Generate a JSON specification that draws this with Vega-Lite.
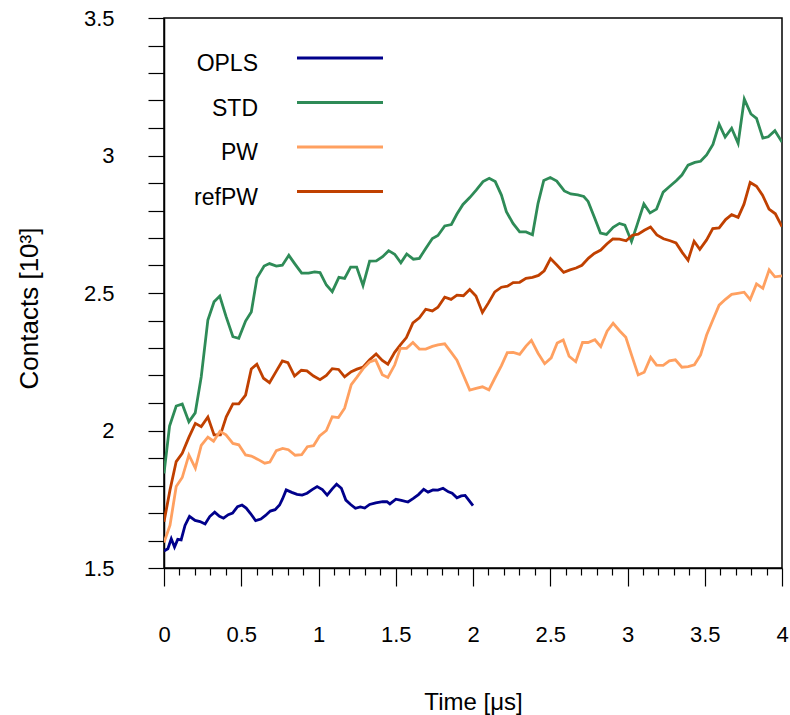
{
"$schema": "https://vega.github.io/schema/vega-lite/v6.json",
"width": 618, "height": 550,
"autosize": {"type": "none"},
"padding": {"left": 164, "top": 18, "right": 8, "bottom": 147},
"background": "white",
"config": {
  "font": "Liberation Sans",
  "view": {"stroke": "black", "strokeWidth": 1.5},
  "style": {"guide-label": {"lineHeight": 12}},
  "axis": {"domainColor": "black", "domainWidth": 1.5, "tickColor": "black", "tickWidth": 1.2, "labelColor": "black", "titleColor": "black", "labelFontSize": 22, "titleFontSize": 24, "titleFontWeight": "normal", "grid": false, "labelOverlap": false, "labelFlush": false}
},
"data": {"values": [
{"t":0,"c":1.844,"m":"STD"},{"t":0.036,"c":2.016,"m":"STD"},{"t":0.079,"c":2.089,"m":"STD"},{"t":0.118,"c":2.096,"m":"STD"},{"t":0.161,"c":2.032,"m":"STD"},{"t":0.202,"c":2.064,"m":"STD"},{"t":0.241,"c":2.195,"m":"STD"},{"t":0.284,"c":2.402,"m":"STD"},{"t":0.324,"c":2.468,"m":"STD"},{"t":0.361,"c":2.489,"m":"STD"},{"t":0.402,"c":2.414,"m":"STD"},{"t":0.446,"c":2.341,"m":"STD"},{"t":0.484,"c":2.335,"m":"STD"},{"t":0.528,"c":2.398,"m":"STD"},{"t":0.565,"c":2.431,"m":"STD"},{"t":0.602,"c":2.555,"m":"STD"},{"t":0.648,"c":2.598,"m":"STD"},{"t":0.683,"c":2.607,"m":"STD"},{"t":0.727,"c":2.598,"m":"STD"},{"t":0.766,"c":2.601,"m":"STD"},{"t":0.808,"c":2.637,"m":"STD"},{"t":0.848,"c":2.605,"m":"STD"},{"t":0.891,"c":2.572,"m":"STD"},{"t":0.936,"c":2.572,"m":"STD"},{"t":0.975,"c":2.577,"m":"STD"},{"t":1.010,"c":2.574,"m":"STD"},{"t":1.051,"c":2.529,"m":"STD"},{"t":1.089,"c":2.505,"m":"STD"},{"t":1.132,"c":2.557,"m":"STD"},{"t":1.169,"c":2.553,"m":"STD"},{"t":1.208,"c":2.594,"m":"STD"},{"t":1.247,"c":2.594,"m":"STD"},{"t":1.288,"c":2.527,"m":"STD"},{"t":1.331,"c":2.616,"m":"STD"},{"t":1.374,"c":2.617,"m":"STD"},{"t":1.415,"c":2.632,"m":"STD"},{"t":1.454,"c":2.654,"m":"STD"},{"t":1.493,"c":2.641,"m":"STD"},{"t":1.533,"c":2.610,"m":"STD"},{"t":1.571,"c":2.642,"m":"STD"},{"t":1.614,"c":2.623,"m":"STD"},{"t":1.653,"c":2.626,"m":"STD"},{"t":1.694,"c":2.662,"m":"STD"},{"t":1.737,"c":2.698,"m":"STD"},{"t":1.773,"c":2.709,"m":"STD"},{"t":1.817,"c":2.744,"m":"STD"},{"t":1.860,"c":2.749,"m":"STD"},{"t":1.896,"c":2.787,"m":"STD"},{"t":1.935,"c":2.822,"m":"STD"},{"t":1.979,"c":2.847,"m":"STD"},{"t":2.022,"c":2.875,"m":"STD"},{"t":2.065,"c":2.905,"m":"STD"},{"t":2.105,"c":2.917,"m":"STD"},{"t":2.144,"c":2.905,"m":"STD"},{"t":2.184,"c":2.856,"m":"STD"},{"t":2.216,"c":2.796,"m":"STD"},{"t":2.259,"c":2.753,"m":"STD"},{"t":2.302,"c":2.722,"m":"STD"},{"t":2.343,"c":2.722,"m":"STD"},{"t":2.385,"c":2.712,"m":"STD"},{"t":2.421,"c":2.826,"m":"STD"},{"t":2.458,"c":2.909,"m":"STD"},{"t":2.500,"c":2.920,"m":"STD"},{"t":2.542,"c":2.907,"m":"STD"},{"t":2.591,"c":2.871,"m":"STD"},{"t":2.633,"c":2.860,"m":"STD"},{"t":2.678,"c":2.857,"m":"STD"},{"t":2.717,"c":2.851,"m":"STD"},{"t":2.745,"c":2.833,"m":"STD"},{"t":2.788,"c":2.772,"m":"STD"},{"t":2.825,"c":2.718,"m":"STD"},{"t":2.864,"c":2.713,"m":"STD"},{"t":2.907,"c":2.739,"m":"STD"},{"t":2.948,"c":2.753,"m":"STD"},{"t":2.983,"c":2.747,"m":"STD"},{"t":3.026,"c":2.687,"m":"STD"},{"t":3.060,"c":2.744,"m":"STD"},{"t":3.106,"c":2.824,"m":"STD"},{"t":3.146,"c":2.791,"m":"STD"},{"t":3.188,"c":2.805,"m":"STD"},{"t":3.231,"c":2.867,"m":"STD"},{"t":3.274,"c":2.888,"m":"STD"},{"t":3.317,"c":2.909,"m":"STD"},{"t":3.352,"c":2.929,"m":"STD"},{"t":3.392,"c":2.965,"m":"STD"},{"t":3.436,"c":2.975,"m":"STD"},{"t":3.473,"c":2.979,"m":"STD"},{"t":3.512,"c":3.002,"m":"STD"},{"t":3.553,"c":3.040,"m":"STD"},{"t":3.593,"c":3.114,"m":"STD"},{"t":3.632,"c":3.067,"m":"STD"},{"t":3.674,"c":3.099,"m":"STD"},{"t":3.716,"c":3.044,"m":"STD"},{"t":3.756,"c":3.205,"m":"STD"},{"t":3.799,"c":3.151,"m":"STD"},{"t":3.835,"c":3.135,"m":"STD"},{"t":3.876,"c":3.063,"m":"STD"},{"t":3.911,"c":3.068,"m":"STD"},{"t":3.954,"c":3.090,"m":"STD"},{"t":4.0,"c":3.049,"m":"STD"},
{"t":0,"c":1.668,"m":"refPW"},{"t":0.039,"c":1.784,"m":"refPW"},{"t":0.079,"c":1.887,"m":"refPW"},{"t":0.118,"c":1.917,"m":"refPW"},{"t":0.161,"c":1.975,"m":"refPW"},{"t":0.203,"c":2.026,"m":"refPW"},{"t":0.241,"c":2.014,"m":"refPW"},{"t":0.284,"c":2.049,"m":"refPW"},{"t":0.324,"c":1.984,"m":"refPW"},{"t":0.365,"c":1.984,"m":"refPW"},{"t":0.403,"c":2.050,"m":"refPW"},{"t":0.446,"c":2.097,"m":"refPW"},{"t":0.484,"c":2.097,"m":"refPW"},{"t":0.528,"c":2.129,"m":"refPW"},{"t":0.565,"c":2.224,"m":"refPW"},{"t":0.601,"c":2.241,"m":"refPW"},{"t":0.644,"c":2.190,"m":"refPW"},{"t":0.683,"c":2.174,"m":"refPW"},{"t":0.727,"c":2.216,"m":"refPW"},{"t":0.766,"c":2.253,"m":"refPW"},{"t":0.802,"c":2.247,"m":"refPW"},{"t":0.845,"c":2.198,"m":"refPW"},{"t":0.889,"c":2.219,"m":"refPW"},{"t":0.925,"c":2.217,"m":"refPW"},{"t":0.968,"c":2.198,"m":"refPW"},{"t":1.010,"c":2.185,"m":"refPW"},{"t":1.051,"c":2.200,"m":"refPW"},{"t":1.089,"c":2.225,"m":"refPW"},{"t":1.130,"c":2.222,"m":"refPW"},{"t":1.169,"c":2.195,"m":"refPW"},{"t":1.212,"c":2.214,"m":"refPW"},{"t":1.249,"c":2.223,"m":"refPW"},{"t":1.289,"c":2.231,"m":"refPW"},{"t":1.331,"c":2.257,"m":"refPW"},{"t":1.373,"c":2.278,"m":"refPW"},{"t":1.413,"c":2.255,"m":"refPW"},{"t":1.449,"c":2.241,"m":"refPW"},{"t":1.493,"c":2.284,"m":"refPW"},{"t":1.530,"c":2.311,"m":"refPW"},{"t":1.569,"c":2.338,"m":"refPW"},{"t":1.611,"c":2.391,"m":"refPW"},{"t":1.653,"c":2.410,"m":"refPW"},{"t":1.694,"c":2.441,"m":"refPW"},{"t":1.737,"c":2.435,"m":"refPW"},{"t":1.773,"c":2.448,"m":"refPW"},{"t":1.817,"c":2.485,"m":"refPW"},{"t":1.858,"c":2.477,"m":"refPW"},{"t":1.896,"c":2.492,"m":"refPW"},{"t":1.938,"c":2.490,"m":"refPW"},{"t":1.979,"c":2.513,"m":"refPW"},{"t":2.019,"c":2.489,"m":"refPW"},{"t":2.061,"c":2.429,"m":"refPW"},{"t":2.100,"c":2.464,"m":"refPW"},{"t":2.141,"c":2.504,"m":"refPW"},{"t":2.184,"c":2.521,"m":"refPW"},{"t":2.223,"c":2.525,"m":"refPW"},{"t":2.260,"c":2.538,"m":"refPW"},{"t":2.302,"c":2.539,"m":"refPW"},{"t":2.343,"c":2.553,"m":"refPW"},{"t":2.385,"c":2.557,"m":"refPW"},{"t":2.424,"c":2.564,"m":"refPW"},{"t":2.461,"c":2.581,"m":"refPW"},{"t":2.502,"c":2.625,"m":"refPW"},{"t":2.544,"c":2.601,"m":"refPW"},{"t":2.587,"c":2.575,"m":"refPW"},{"t":2.628,"c":2.584,"m":"refPW"},{"t":2.667,"c":2.591,"m":"refPW"},{"t":2.705,"c":2.601,"m":"refPW"},{"t":2.748,"c":2.627,"m":"refPW"},{"t":2.785,"c":2.644,"m":"refPW"},{"t":2.827,"c":2.656,"m":"refPW"},{"t":2.866,"c":2.678,"m":"refPW"},{"t":2.905,"c":2.697,"m":"refPW"},{"t":2.948,"c":2.696,"m":"refPW"},{"t":2.991,"c":2.690,"m":"refPW"},{"t":3.032,"c":2.710,"m":"refPW"},{"t":3.069,"c":2.714,"m":"refPW"},{"t":3.109,"c":2.728,"m":"refPW"},{"t":3.149,"c":2.740,"m":"refPW"},{"t":3.190,"c":2.711,"m":"refPW"},{"t":3.233,"c":2.697,"m":"refPW"},{"t":3.276,"c":2.690,"m":"refPW"},{"t":3.314,"c":2.682,"m":"refPW"},{"t":3.355,"c":2.647,"m":"refPW"},{"t":3.392,"c":2.619,"m":"refPW"},{"t":3.431,"c":2.688,"m":"refPW"},{"t":3.468,"c":2.659,"m":"refPW"},{"t":3.512,"c":2.693,"m":"refPW"},{"t":3.552,"c":2.734,"m":"refPW"},{"t":3.593,"c":2.737,"m":"refPW"},{"t":3.635,"c":2.767,"m":"refPW"},{"t":3.674,"c":2.785,"m":"refPW"},{"t":3.716,"c":2.775,"m":"refPW"},{"t":3.754,"c":2.823,"m":"refPW"},{"t":3.794,"c":2.902,"m":"refPW"},{"t":3.835,"c":2.888,"m":"refPW"},{"t":3.874,"c":2.856,"m":"refPW"},{"t":3.916,"c":2.805,"m":"refPW"},{"t":3.957,"c":2.788,"m":"refPW"},{"t":4.0,"c":2.741,"m":"refPW"},
{"t":0,"c":1.593,"m":"PW"},{"t":0.039,"c":1.656,"m":"PW"},{"t":0.079,"c":1.796,"m":"PW"},{"t":0.118,"c":1.829,"m":"PW"},{"t":0.161,"c":1.911,"m":"PW"},{"t":0.203,"c":1.863,"m":"PW"},{"t":0.241,"c":1.946,"m":"PW"},{"t":0.284,"c":1.976,"m":"PW"},{"t":0.321,"c":1.961,"m":"PW"},{"t":0.362,"c":1.997,"m":"PW"},{"t":0.401,"c":1.984,"m":"PW"},{"t":0.446,"c":1.953,"m":"PW"},{"t":0.484,"c":1.948,"m":"PW"},{"t":0.528,"c":1.911,"m":"PW"},{"t":0.565,"c":1.907,"m":"PW"},{"t":0.608,"c":1.895,"m":"PW"},{"t":0.652,"c":1.881,"m":"PW"},{"t":0.685,"c":1.885,"m":"PW"},{"t":0.727,"c":1.927,"m":"PW"},{"t":0.768,"c":1.935,"m":"PW"},{"t":0.805,"c":1.930,"m":"PW"},{"t":0.849,"c":1.910,"m":"PW"},{"t":0.891,"c":1.912,"m":"PW"},{"t":0.928,"c":1.941,"m":"PW"},{"t":0.968,"c":1.945,"m":"PW"},{"t":1.007,"c":1.980,"m":"PW"},{"t":1.051,"c":2.000,"m":"PW"},{"t":1.089,"c":2.050,"m":"PW"},{"t":1.129,"c":2.047,"m":"PW"},{"t":1.169,"c":2.081,"m":"PW"},{"t":1.212,"c":2.167,"m":"PW"},{"t":1.249,"c":2.194,"m":"PW"},{"t":1.289,"c":2.225,"m":"PW"},{"t":1.331,"c":2.249,"m":"PW"},{"t":1.370,"c":2.257,"m":"PW"},{"t":1.413,"c":2.203,"m":"PW"},{"t":1.449,"c":2.193,"m":"PW"},{"t":1.493,"c":2.238,"m":"PW"},{"t":1.530,"c":2.299,"m":"PW"},{"t":1.570,"c":2.299,"m":"PW"},{"t":1.611,"c":2.320,"m":"PW"},{"t":1.653,"c":2.296,"m":"PW"},{"t":1.694,"c":2.296,"m":"PW"},{"t":1.737,"c":2.306,"m":"PW"},{"t":1.773,"c":2.311,"m":"PW"},{"t":1.817,"c":2.315,"m":"PW"},{"t":1.859,"c":2.284,"m":"PW"},{"t":1.896,"c":2.256,"m":"PW"},{"t":1.938,"c":2.201,"m":"PW"},{"t":1.979,"c":2.147,"m":"PW"},{"t":2.020,"c":2.153,"m":"PW"},{"t":2.061,"c":2.159,"m":"PW"},{"t":2.103,"c":2.148,"m":"PW"},{"t":2.141,"c":2.190,"m":"PW"},{"t":2.184,"c":2.236,"m":"PW"},{"t":2.222,"c":2.283,"m":"PW"},{"t":2.260,"c":2.284,"m":"PW"},{"t":2.302,"c":2.277,"m":"PW"},{"t":2.343,"c":2.307,"m":"PW"},{"t":2.378,"c":2.328,"m":"PW"},{"t":2.421,"c":2.281,"m":"PW"},{"t":2.464,"c":2.243,"m":"PW"},{"t":2.506,"c":2.264,"m":"PW"},{"t":2.545,"c":2.318,"m":"PW"},{"t":2.584,"c":2.329,"m":"PW"},{"t":2.622,"c":2.270,"m":"PW"},{"t":2.665,"c":2.250,"m":"PW"},{"t":2.709,"c":2.320,"m":"PW"},{"t":2.745,"c":2.320,"m":"PW"},{"t":2.789,"c":2.330,"m":"PW"},{"t":2.827,"c":2.305,"m":"PW"},{"t":2.868,"c":2.361,"m":"PW"},{"t":2.907,"c":2.390,"m":"PW"},{"t":2.950,"c":2.362,"m":"PW"},{"t":2.989,"c":2.339,"m":"PW"},{"t":3.026,"c":2.275,"m":"PW"},{"t":3.069,"c":2.202,"m":"PW"},{"t":3.108,"c":2.212,"m":"PW"},{"t":3.150,"c":2.266,"m":"PW"},{"t":3.188,"c":2.238,"m":"PW"},{"t":3.231,"c":2.237,"m":"PW"},{"t":3.271,"c":2.253,"m":"PW"},{"t":3.310,"c":2.257,"m":"PW"},{"t":3.352,"c":2.230,"m":"PW"},{"t":3.393,"c":2.232,"m":"PW"},{"t":3.433,"c":2.239,"m":"PW"},{"t":3.473,"c":2.275,"m":"PW"},{"t":3.512,"c":2.347,"m":"PW"},{"t":3.553,"c":2.403,"m":"PW"},{"t":3.593,"c":2.456,"m":"PW"},{"t":3.634,"c":2.477,"m":"PW"},{"t":3.674,"c":2.495,"m":"PW"},{"t":3.713,"c":2.499,"m":"PW"},{"t":3.755,"c":2.503,"m":"PW"},{"t":3.794,"c":2.476,"m":"PW"},{"t":3.835,"c":2.533,"m":"PW"},{"t":3.876,"c":2.517,"m":"PW"},{"t":3.917,"c":2.584,"m":"PW"},{"t":3.954,"c":2.559,"m":"PW"},{"t":4.0,"c":2.562,"m":"PW"},
{"t":0,"c":1.562,"m":"OPLS"},{"t":0.025,"c":1.570,"m":"OPLS"},{"t":0.047,"c":1.606,"m":"OPLS"},{"t":0.068,"c":1.576,"m":"OPLS"},{"t":0.089,"c":1.604,"m":"OPLS"},{"t":0.111,"c":1.602,"m":"OPLS"},{"t":0.136,"c":1.655,"m":"OPLS"},{"t":0.165,"c":1.688,"m":"OPLS"},{"t":0.201,"c":1.673,"m":"OPLS"},{"t":0.233,"c":1.669,"m":"OPLS"},{"t":0.266,"c":1.660,"m":"OPLS"},{"t":0.296,"c":1.687,"m":"OPLS"},{"t":0.328,"c":1.703,"m":"OPLS"},{"t":0.359,"c":1.688,"m":"OPLS"},{"t":0.385,"c":1.681,"m":"OPLS"},{"t":0.416,"c":1.694,"m":"OPLS"},{"t":0.444,"c":1.700,"m":"OPLS"},{"t":0.476,"c":1.723,"m":"OPLS"},{"t":0.505,"c":1.729,"m":"OPLS"},{"t":0.532,"c":1.718,"m":"OPLS"},{"t":0.560,"c":1.698,"m":"OPLS"},{"t":0.593,"c":1.672,"m":"OPLS"},{"t":0.627,"c":1.678,"m":"OPLS"},{"t":0.657,"c":1.691,"m":"OPLS"},{"t":0.688,"c":1.707,"m":"OPLS"},{"t":0.719,"c":1.712,"m":"OPLS"},{"t":0.748,"c":1.729,"m":"OPLS"},{"t":0.767,"c":1.751,"m":"OPLS"},{"t":0.791,"c":1.784,"m":"OPLS"},{"t":0.827,"c":1.775,"m":"OPLS"},{"t":0.861,"c":1.768,"m":"OPLS"},{"t":0.894,"c":1.765,"m":"OPLS"},{"t":0.926,"c":1.772,"m":"OPLS"},{"t":0.959,"c":1.785,"m":"OPLS"},{"t":0.991,"c":1.796,"m":"OPLS"},{"t":1.025,"c":1.785,"m":"OPLS"},{"t":1.056,"c":1.765,"m":"OPLS"},{"t":1.089,"c":1.788,"m":"OPLS"},{"t":1.117,"c":1.805,"m":"OPLS"},{"t":1.148,"c":1.790,"m":"OPLS"},{"t":1.177,"c":1.747,"m":"OPLS"},{"t":1.208,"c":1.731,"m":"OPLS"},{"t":1.239,"c":1.717,"m":"OPLS"},{"t":1.271,"c":1.722,"m":"OPLS"},{"t":1.299,"c":1.718,"m":"OPLS"},{"t":1.331,"c":1.731,"m":"OPLS"},{"t":1.370,"c":1.737,"m":"OPLS"},{"t":1.415,"c":1.741,"m":"OPLS"},{"t":1.443,"c":1.741,"m":"OPLS"},{"t":1.462,"c":1.733,"m":"OPLS"},{"t":1.501,"c":1.750,"m":"OPLS"},{"t":1.536,"c":1.746,"m":"OPLS"},{"t":1.579,"c":1.740,"m":"OPLS"},{"t":1.614,"c":1.753,"m":"OPLS"},{"t":1.647,"c":1.767,"m":"OPLS"},{"t":1.681,"c":1.786,"m":"OPLS"},{"t":1.709,"c":1.776,"m":"OPLS"},{"t":1.741,"c":1.784,"m":"OPLS"},{"t":1.773,"c":1.783,"m":"OPLS"},{"t":1.806,"c":1.790,"m":"OPLS"},{"t":1.841,"c":1.777,"m":"OPLS"},{"t":1.865,"c":1.772,"m":"OPLS"},{"t":1.896,"c":1.755,"m":"OPLS"},{"t":1.924,"c":1.762,"m":"OPLS"},{"t":1.949,"c":1.764,"m":"OPLS"},{"t":1.975,"c":1.745,"m":"OPLS"},{"t":2.000,"c":1.727,"m":"OPLS"}
]},
"mark": {"type": "line", "strokeWidth": 2.8, "clip": true},
"encoding": {
  "x": {"field": "t", "type": "quantitative", "scale": {"domain": [0, 4], "nice": false},
    "axis": {"title": "Time [μs]", "values": [0,0.1,0.2,0.3,0.4,0.5,0.6,0.7,0.8,0.9,1,1.1,1.2,1.3,1.4,1.5,1.6,1.7,1.8,1.9,2,2.1,2.2,2.3,2.4,2.5,2.6,2.7,2.8,2.9,3,3.1,3.2,3.3,3.4,3.5,3.6,3.7,3.8,3.9,4],
      "format": ".1~f", "labelExpr": "abs(datum.value*2 - round(datum.value*2)) < 0.001 ? datum.label : ''",
      "tickSize": {"condition": {"test": "abs(datum.value*2 - round(datum.value*2)) < 0.001", "value": 18}, "value": 7},
      "labelPadding": 38, "titlePadding": 45}},
  "y": {"field": "c", "type": "quantitative", "scale": {"domain": [1.5, 3.5], "nice": false, "zero": false},
    "axis": {"title": "Contacts [10³]", "titleFontSize": 26, "titleY": 290, "values": [1.5,1.6,1.7,1.8,1.9,2,2.1,2.2,2.3,2.4,2.5,2.6,2.7,2.8,2.9,3,3.1,3.2,3.3,3.4,3.5],
      "format": ".1~f", "labelExpr": "abs(datum.value*2 - round(datum.value*2)) < 0.001 ? datum.label : ''",
      "tickSize": 16, "labelPadding": 34, "titlePadding": 41}},
  "color": {"field": "m", "type": "nominal",
    "scale": {"domain": ["OPLS", "STD", "PW", "refPW"], "range": ["#00008b", "#2e8b57", "#ffa060", "#c04000"]},
    "legend": {"orient": "none", "legendX": 153, "legendY": 17, "title": null, "padding": 0,
      "symbolType": "M-2,0H2", "symbolSize": 1849, "symbolStrokeWidth": 3, "rowPadding": 3.5,
      "labelAlign": "right", "labelBaseline": "line-top", "labelOffset": -105, "labelFontSize": 23, "labelColor": "black", "labelLimit": 0}}
}
}
